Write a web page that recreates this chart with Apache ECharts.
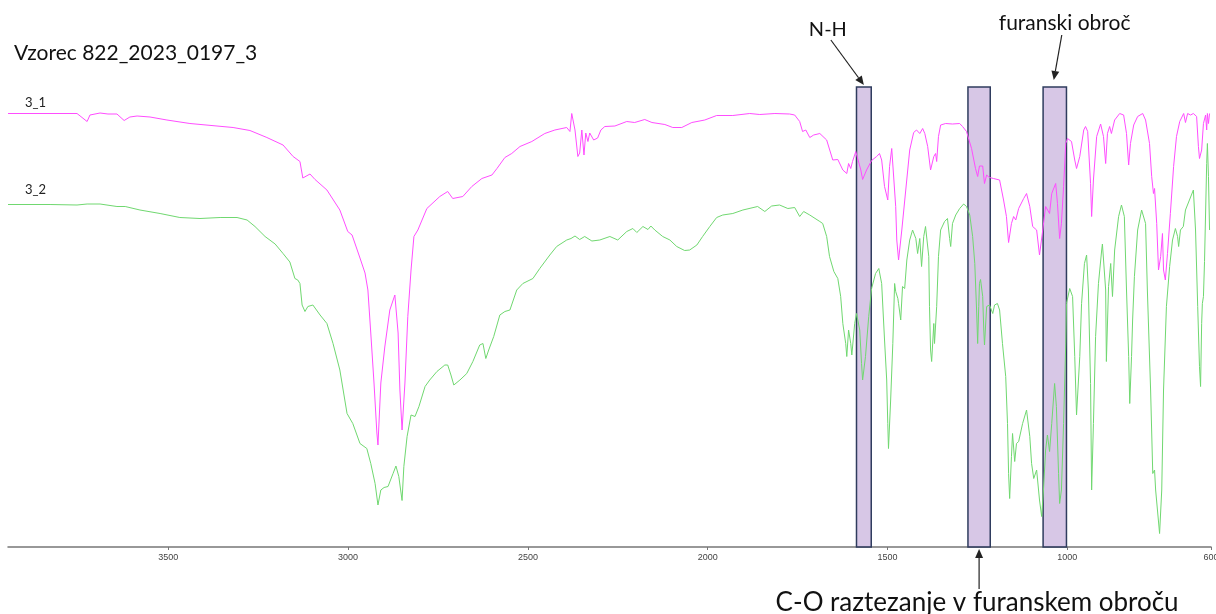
<!DOCTYPE html>
<html>
<head>
<meta charset="utf-8">
<script src="https://cdn.jsdelivr.net/npm/echarts@6/dist/echarts.min.js"></script>
<style>html,body{margin:0;padding:0;background:#fff}#c{width:1216px;height:614px}</style>
</head>
<body>
<div id="c"></div>
<script>
// ---- data (wavenumber cm-1, relative transmittance) ----
const title = 'Vzorec 822_2023_0197_3';
const seriesNames = ['3_1', '3_2'];
const tickLabels = [3500, 3000, 2500, 2000, 1500, 1000, 600];
const xRange = [600, 3946];

const wn1 = [3946,3754,3726,3718,3690,3668,3643,3623,3607,3587,3551,3504,3440,3320,3273,3226,3181,3153,3134,3126,3106,3092,3059,3023,3001,2989,2967,2953,2945,2937,2928,2920,2917,2909,2898,2884,2870,2861,2856,2850,2842,2834,2825,2817,2806,2781,2745,2723,2709,2681,2656,2628,2600,2586,2564,2545,2522,2489,2453,2425,2392,2383,2378,2369,2361,2356,2350,2344,2339,2333,2328,2317,2306,2297,2286,2258,2225,2203,2175,2155,2119,2097,2072,2044,2008,1975,1930,1883,1855,1813,1772,1758,1744,1736,1727,1716,1705,1688,1669,1652,1638,1624,1613,1608,1602,1597,1588,1583,1574,1569,1558,1544,1530,1522,1516,1508,1499,1494,1488,1483,1477,1474,1469,1460,1449,1438,1427,1419,1410,1402,1396,1388,1380,1371,1366,1363,1358,1352,1338,1319,1299,1291,1280,1266,1255,1249,1244,1235,1230,1224,1216,1205,1188,1177,1169,1163,1155,1149,1143,1135,1121,1113,1104,1096,1091,1085,1077,1068,1060,1055,1049,1043,1032,1027,1021,1016,1010,1004,999,988,979,974,965,954,949,943,935,932,927,918,907,899,893,888,882,877,868,854,843,835,829,824,815,804,790,782,771,765,760,757,751,746,740,735,732,727,721,713,704,696,687,682,676,671,665,657,649,640,635,632,626,621,615,612,610,607,604];
const t1 = [86.7,86.7,85.1,86.4,86.8,86.6,86.6,85.3,86.0,86.2,86.0,85.4,84.7,83.9,83.3,81.9,80.4,78.1,77.1,73.8,74.6,73.5,71.4,67.4,63.1,62.4,57.8,54.8,51.4,42.8,32.8,22.8,20.4,32.8,40.0,47.4,50.4,42.8,31.4,23.4,32.8,46.1,55.4,62.1,63.4,67.7,70.1,71.1,69.7,70.1,72.1,73.7,74.4,75.7,77.9,78.7,80.1,81.1,82.7,83.4,83.9,83.1,86.7,83.4,78.1,78.8,83.4,78.4,82.8,81.1,82.8,81.4,81.8,83.4,84.1,84.2,85.1,84.9,85.5,84.9,84.5,83.9,83.9,84.9,85.4,86.3,86.3,86.7,86.5,86.7,86.6,86.4,85.1,83.1,83.4,81.9,82.4,82.7,81.4,77.4,77.5,75.4,74.7,76.7,75.7,77.1,79.1,79.1,75.4,73.5,75.4,77.3,78.1,78.7,77.4,72.1,69.4,76.1,79.7,79.4,68.1,61.4,57.4,63.4,71.4,79.4,82.9,83.4,82.7,83.7,82.7,80.1,75.4,78.1,78.7,77.1,82.1,84.4,84.7,84.6,84.7,84.1,83.1,79.7,75.7,74.1,76.2,76.2,72.7,74.4,73.9,73.7,73.4,69.4,66.1,60.9,64.7,66.1,65.4,67.7,69.7,70.7,68.1,64.1,64.4,63.4,58.4,63.4,68.1,68.1,66.7,70.7,72.7,68.7,61.7,64.7,72.1,80.7,81.7,81.1,77.4,75.7,78.1,83.4,84.1,83.1,72.7,66.1,73.4,82.1,84.6,82.1,76.7,82.7,84.1,82.7,85.4,86.7,86.4,82.7,76.4,80.7,84.4,86.1,86.7,85.4,80.7,74.1,70.7,71.7,64.7,55.4,58.1,62.7,55.4,53.4,58.7,66.7,76.1,82.1,85.1,85.4,86.7,84.9,86.7,86.4,86.7,86.1,80.1,77.7,79.4,84.7,86.4,83.4,86.7,84.7,86.7];

const wn2 = [3946,3829,3754,3726,3690,3643,3620,3579,3523,3468,3412,3356,3309,3281,3259,3231,3203,3181,3162,3148,3140,3134,3128,3120,3112,3098,3078,3059,3042,3023,3003,2987,2967,2948,2937,2925,2917,2909,2900,2889,2875,2867,2859,2850,2845,2836,2825,2814,2803,2786,2773,2753,2731,2723,2714,2706,2689,2670,2653,2634,2625,2617,2609,2595,2578,2564,2550,2531,2514,2486,2467,2439,2420,2392,2380,2369,2356,2342,2322,2300,2272,2250,2225,2208,2197,2180,2166,2158,2147,2125,2105,2086,2064,2050,2030,2014,1994,1975,1958,1930,1902,1861,1841,1822,1800,1777,1758,1744,1733,1716,1688,1680,1669,1661,1649,1638,1630,1624,1616,1613,1608,1602,1599,1591,1586,1577,1572,1569,1561,1552,1544,1533,1524,1516,1508,1502,1499,1497,1491,1485,1480,1477,1471,1469,1463,1458,1452,1446,1438,1430,1421,1416,1410,1405,1399,1394,1385,1383,1380,1377,1371,1369,1363,1358,1352,1341,1333,1327,1324,1319,1310,1299,1288,1280,1271,1263,1257,1252,1249,1246,1244,1241,1235,1232,1230,1224,1216,1207,1202,1194,1188,1180,1171,1166,1163,1160,1155,1152,1146,1141,1135,1132,1124,1113,1104,1099,1093,1085,1077,1071,1066,1060,1055,1049,1043,1035,1030,1024,1021,1016,1010,1004,1002,993,985,979,974,965,960,952,946,941,935,932,927,921,913,904,902,893,891,885,879,874,868,857,849,841,835,829,826,821,818,813,804,793,782,777,768,762,757,754,749,743,737,732,724,715,707,699,693,690,685,677,671,660,649,643,637,632,629,626,624,621,618,612,610,607,604];
const t2 = [68.5,68.5,68.4,68.6,68.6,68.1,68.1,67.4,66.7,65.9,65.7,65.9,65.9,65.4,64.1,62.1,60.6,58.7,57.0,53.7,53.4,52.7,48.4,47.1,48.1,48.4,46.4,44.7,40.7,35.4,26.7,24.7,20.7,19.7,16.7,12.7,8.4,11.4,11.9,12.1,14.7,16.2,14.1,9.3,16.1,22.1,26.4,26.1,28.1,32.1,33.4,35.1,36.4,36.4,34.4,32.4,33.4,34.7,37.1,40.4,40.7,37.7,39.4,42.1,46.4,47.1,47.4,51.4,52.7,53.7,55.7,58.4,60.1,61.4,61.7,62.2,61.5,62.1,61.2,61.4,62.1,61.4,63.1,63.7,62.9,64.1,63.5,64.2,63.4,62.1,61.4,60.1,59.3,59.4,60.4,62.1,64.1,65.9,66.4,66.7,67.4,68.1,67.1,68.2,68.4,67.7,67.9,66.1,67.1,66.4,65.1,64.7,62.1,58.1,55.1,53.7,50.1,44.7,40.7,38.1,43.4,40.7,38.4,44.7,46.7,43.4,36.7,33.4,38.1,46.1,51.7,54.7,55.7,52.7,41.4,33.4,24.7,19.7,29.4,40.7,52.7,51.1,49.7,48.7,45.4,52.1,51.7,57.4,61.4,63.4,61.7,58.7,61.7,56.1,62.1,64.1,58.1,48.1,39.4,37.1,44.7,40.7,48.1,58.1,63.4,65.1,65.7,61.7,60.1,64.7,66.4,67.7,68.6,68.1,66.4,62.1,56.7,47.4,40.7,48.1,52.7,53.5,50.1,43.4,40.4,48.1,48.4,46.7,48.4,48.7,47.4,40.7,34.1,24.7,14.7,9.7,18.1,22.7,17.1,20.7,21.1,20.7,24.7,27.4,22.1,16.7,13.7,15.4,9.4,6.1,11.4,19.4,22.4,19.1,24.7,32.7,28.1,14.7,8.7,11.4,24.7,40.7,48.7,51.7,50.1,38.1,26.4,38.1,48.7,56.7,58.4,51.4,32.7,11.4,24.7,42.1,52.7,59.4,60.6,51.4,37.1,52.1,56.7,50.1,59.4,66.1,68.4,66.1,51.4,38.1,28.7,38.1,45.4,54.1,63.4,67.4,64.7,51.4,31.4,14.7,15.4,11.4,11.4,2.7,11.4,31.4,48.1,56.1,61.4,63.7,62.1,60.1,63.4,64.1,67.4,69.4,71.4,63.4,48.1,36.1,32.1,44.7,48.7,50.1,57.1,76.7,80.7,74.1,63.4];

// highlighted bands [from, to] in cm-1
const bands = [[1586, 1545], [1276, 1214], [1067, 1002]];
const bandTop = 92;
const bandLabels = ['N-H', 'C-O raztezanje v furanskem obroču', 'furanski obroč'];

const colors = ['#ff4dff', '#70d870'];

const chart = echarts.init(document.getElementById('c'));
const zip = (a, b) => a.map((v, i) => [v, b[i]]);

const option = {
  animation: false,
  backgroundColor: '#ffffff',
  grid: { left: 8, right: 5, top: 47, bottom: 67, outerBoundsMode: 'none', containLabel: false },
  xAxis: {
    type: 'value', inverse: true, min: xRange[0], max: xRange[1],
    axisLine: { show: true, lineStyle: { color: '#777', width: 1.5 } },
    axisTick: { show: true, length: 3, customValues: tickLabels, lineStyle: { color: '#777' } },
    axisLabel: { customValues: tickLabels, formatter: v => String(v), color: '#444', fontSize: 9, fontFamily: 'Liberation Sans', margin: 6, hideOverlap: false },
    splitLine: { show: false }
  },
  yAxis: { type: 'value', min: 0, max: 100, show: false, splitLine: { show: false } },
  series: [
    { name: seriesNames[0], type: 'line', data: zip(wn1, t1), showSymbol: false, lineStyle: { color: colors[0], width: 1 }, z: 2 },
    { name: seriesNames[1], type: 'line', data: zip(wn2, t2), showSymbol: false, lineStyle: { color: colors[1], width: 1 }, z: 2 },
    { name: 'bands', type: 'line', data: [], z: 5,
      markArea: { silent: true,
        itemStyle: { color: 'rgba(190,165,215,0.62)', borderColor: '#2f3c5e', borderWidth: 1.5 },
        data: bands.map(b => [{ xAxis: b[0], yAxis: 0 }, { xAxis: b[1], yAxis: bandTop }]) } }
  ]
};
chart.setOption(option);

// annotations placed relative to the band positions
const px = (x, y) => chart.convertToPixel({ gridIndex: 0 }, [x, y]);
function arrow(x1, y1, x2, y2) {
  const ang = Math.atan2(y2 - y1, x2 - x1), L = 9, W = 4;
  const bx = x2 - L * Math.cos(ang), by = y2 - L * Math.sin(ang);
  const nx = -Math.sin(ang) * W, ny = Math.cos(ang) * W;
  return [
    { type: 'line', shape: { x1, y1, x2: bx, y2: by }, style: { stroke: '#222', lineWidth: 1.2 } },
    { type: 'polygon', shape: { points: [[x2, y2], [bx + nx, by + ny], [bx - nx, by - ny]] }, style: { fill: '#222' } }
  ];
}
const c0 = px((bands[0][0] + bands[0][1]) / 2, bandTop);
const c1 = px((bands[1][0] + bands[1][1]) / 2, 0);
const c2 = px((bands[2][0] + bands[2][1]) / 2, bandTop);
const font = 'Lato, "Open Sans", sans-serif';
chart.setOption({
  graphic: [
    { type: 'text', x: 14, y: 43, style: { text: title, font: '21px ' + font, fill: '#111' } },
    { type: 'text', x: 25, y: 96, style: { text: seriesNames[0], font: '13px ' + font, fill: '#222' } },
    { type: 'text', x: 25, y: 183, style: { text: seriesNames[1], font: '13px ' + font, fill: '#222' } },
    { type: 'text', x: c0[0] - 55, y: 20, style: { text: bandLabels[0], font: '20px ' + font, fill: '#111' } },
    { type: 'text', x: c2[0] - 56, y: 13, style: { text: bandLabels[2], font: '21px ' + font, fill: '#111' } },
    { type: 'text', x: c1[0] - 2, y: 590, style: { text: bandLabels[1], font: '26px ' + font, fill: '#111', align: 'center' } },
    ...arrow(c0[0] - 33, c0[1] - 47, c0[0], c0[1] - 2),
    ...arrow(c2[0] + 7, c2[1] - 52, c2[0] - 1, c2[1] - 7),
    ...arrow(c1[0], c1[1] + 42, c1[0], c1[1] + 2)
  ]
});
</script>
</body>
</html>
